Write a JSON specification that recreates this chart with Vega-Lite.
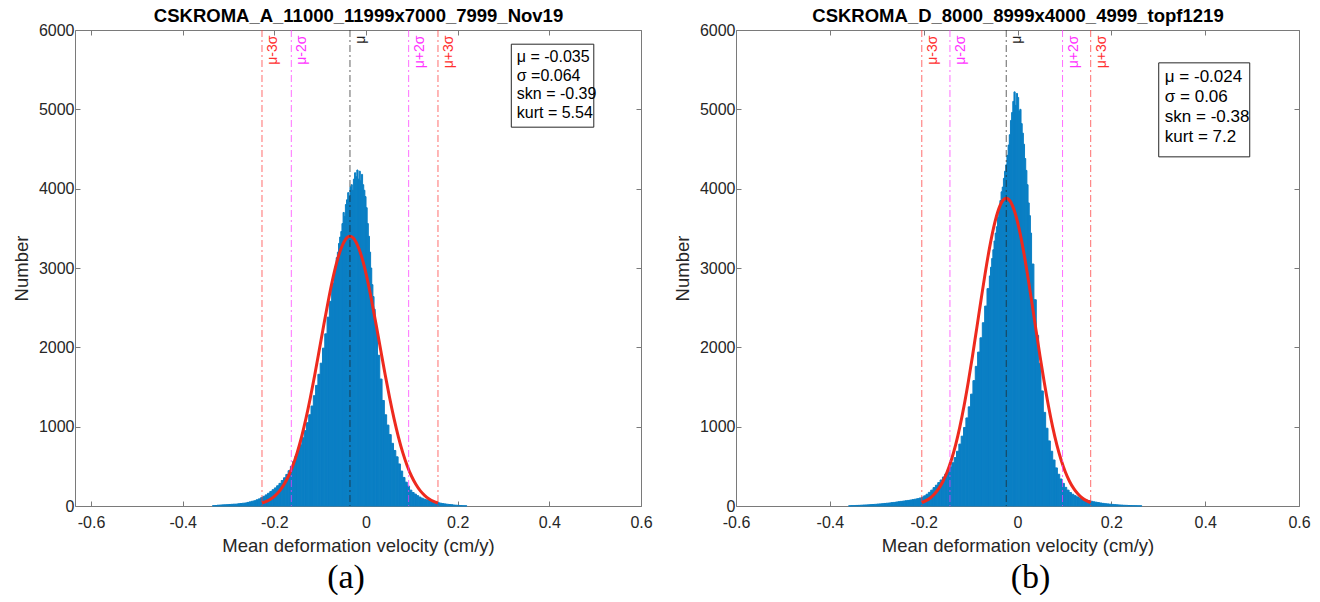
{
  "$schema": "https://vega.github.io/schema/vega-lite/v6.json",
  "background": "white",
  "padding": {"left": 12, "top": 6, "right": 5, "bottom": 0},
  "config": {
    "view": {"stroke": null},
    "font": "Liberation Sans",
    "axis": {"grid": false, "domainColor": "#7a7a7a", "tickColor": "#7a7a7a", "tickSize": -5, "labelFont": "Liberation Sans", "labelFontSize": 16, "labelColor": "#262626", "titleFont": "Liberation Sans", "titleFontSize": 18.5, "titleFontWeight": "normal", "titleColor": "#262626", "labelFlush": false}
  },
  "datasets": {
    "histA": [
      {"x0":-0.335,"x1":-0.33,"n":4},{"x0":-0.33,"x1":-0.325,"n":6},{"x0":-0.325,"x1":-0.32,"n":10},{"x0":-0.32,"x1":-0.315,"n":12},{"x0":-0.315,"x1":-0.31,"n":14},{"x0":-0.31,"x1":-0.305,"n":15},{"x0":-0.305,"x1":-0.3,"n":17},{"x0":-0.3,"x1":-0.295,"n":19},{"x0":-0.295,"x1":-0.29,"n":21},{"x0":-0.29,"x1":-0.285,"n":23},{"x0":-0.285,"x1":-0.28,"n":24},{"x0":-0.28,"x1":-0.275,"n":28},{"x0":-0.275,"x1":-0.27,"n":31},{"x0":-0.27,"x1":-0.265,"n":35},{"x0":-0.265,"x1":-0.26,"n":38},{"x0":-0.26,"x1":-0.255,"n":45},{"x0":-0.255,"x1":-0.25,"n":52},{"x0":-0.25,"x1":-0.245,"n":60},{"x0":-0.245,"x1":-0.24,"n":66},{"x0":-0.24,"x1":-0.235,"n":78},{"x0":-0.235,"x1":-0.23,"n":90},{"x0":-0.23,"x1":-0.225,"n":105},{"x0":-0.225,"x1":-0.22,"n":122},{"x0":-0.22,"x1":-0.215,"n":140},{"x0":-0.215,"x1":-0.21,"n":160},{"x0":-0.21,"x1":-0.205,"n":182},{"x0":-0.205,"x1":-0.2,"n":205},{"x0":-0.2,"x1":-0.195,"n":228},{"x0":-0.195,"x1":-0.19,"n":255},{"x0":-0.19,"x1":-0.185,"n":285},{"x0":-0.185,"x1":-0.18,"n":322},{"x0":-0.18,"x1":-0.175,"n":356},{"x0":-0.175,"x1":-0.17,"n":398},{"x0":-0.17,"x1":-0.165,"n":445},{"x0":-0.165,"x1":-0.16,"n":500},{"x0":-0.16,"x1":-0.155,"n":560},{"x0":-0.155,"x1":-0.15,"n":628},{"x0":-0.15,"x1":-0.145,"n":695},{"x0":-0.145,"x1":-0.14,"n":770},{"x0":-0.14,"x1":-0.135,"n":860},{"x0":-0.135,"x1":-0.13,"n":950},{"x0":-0.13,"x1":-0.125,"n":1050},{"x0":-0.125,"x1":-0.12,"n":1150},{"x0":-0.12,"x1":-0.115,"n":1260},{"x0":-0.115,"x1":-0.11,"n":1390},{"x0":-0.11,"x1":-0.105,"n":1520},{"x0":-0.105,"x1":-0.1,"n":1660},{"x0":-0.1,"x1":-0.095,"n":1800},{"x0":-0.095,"x1":-0.09,"n":1990},{"x0":-0.09,"x1":-0.085,"n":2170},{"x0":-0.085,"x1":-0.08,"n":2380},{"x0":-0.08,"x1":-0.075,"n":2580},{"x0":-0.075,"x1":-0.07,"n":2810},
      {"x0":-0.07,"x1":-0.0675,"n":2950},{"x0":-0.0675,"x1":-0.065,"n":3020},{"x0":-0.065,"x1":-0.0625,"n":3130},{"x0":-0.0625,"x1":-0.06,"n":3200},{"x0":-0.06,"x1":-0.0575,"n":3310},{"x0":-0.0575,"x1":-0.055,"n":3390},{"x0":-0.055,"x1":-0.0525,"n":3460},{"x0":-0.0525,"x1":-0.05,"n":3560},{"x0":-0.05,"x1":-0.0475,"n":3700},{"x0":-0.0475,"x1":-0.045,"n":3650},{"x0":-0.045,"x1":-0.0425,"n":3800},{"x0":-0.0425,"x1":-0.04,"n":3860},{"x0":-0.04,"x1":-0.0375,"n":3950},{"x0":-0.0375,"x1":-0.035,"n":3900},{"x0":-0.035,"x1":-0.0325,"n":4020},{"x0":-0.0325,"x1":-0.03,"n":4050},{"x0":-0.03,"x1":-0.0275,"n":3980},{"x0":-0.0275,"x1":-0.025,"n":4120},{"x0":-0.025,"x1":-0.0225,"n":4200},{"x0":-0.0225,"x1":-0.02,"n":4150},{"x0":-0.02,"x1":-0.0175,"n":4235},{"x0":-0.0175,"x1":-0.015,"n":4120},{"x0":-0.015,"x1":-0.0125,"n":4220},{"x0":-0.0125,"x1":-0.01,"n":4100},{"x0":-0.01,"x1":-0.0075,"n":4180},{"x0":-0.0075,"x1":-0.005,"n":4050},{"x0":-0.005,"x1":-0.0025,"n":3980},{"x0":-0.0025,"x1":0,"n":3900},{"x0":0,"x1":0.0025,"n":3760},{"x0":0.0025,"x1":0.005,"n":3560},{"x0":0.005,"x1":0.0075,"n":3400},{"x0":0.0075,"x1":0.01,"n":3200},{"x0":0.01,"x1":0.0125,"n":3000},{"x0":0.0125,"x1":0.015,"n":2790},{"x0":0.015,"x1":0.0175,"n":2640},{"x0":0.0175,"x1":0.02,"n":2480},
      {"x0":0.02,"x1":0.025,"n":2250},{"x0":0.025,"x1":0.03,"n":1900},{"x0":0.03,"x1":0.035,"n":1600},{"x0":0.035,"x1":0.04,"n":1330},{"x0":0.04,"x1":0.045,"n":1150},{"x0":0.045,"x1":0.05,"n":1020},{"x0":0.05,"x1":0.055,"n":900},{"x0":0.055,"x1":0.06,"n":790},{"x0":0.06,"x1":0.065,"n":700},{"x0":0.065,"x1":0.07,"n":620},{"x0":0.07,"x1":0.075,"n":530},{"x0":0.075,"x1":0.08,"n":440},{"x0":0.08,"x1":0.085,"n":360},{"x0":0.085,"x1":0.09,"n":300},{"x0":0.09,"x1":0.095,"n":250},{"x0":0.095,"x1":0.1,"n":200},{"x0":0.1,"x1":0.105,"n":170},{"x0":0.105,"x1":0.11,"n":150},{"x0":0.11,"x1":0.115,"n":130},{"x0":0.115,"x1":0.12,"n":112},{"x0":0.12,"x1":0.125,"n":98},{"x0":0.125,"x1":0.13,"n":86},{"x0":0.13,"x1":0.135,"n":78},{"x0":0.135,"x1":0.14,"n":70},{"x0":0.14,"x1":0.145,"n":62},{"x0":0.145,"x1":0.15,"n":55},{"x0":0.15,"x1":0.155,"n":48},{"x0":0.155,"x1":0.16,"n":42},{"x0":0.16,"x1":0.165,"n":36},{"x0":0.165,"x1":0.17,"n":30},{"x0":0.17,"x1":0.175,"n":26},{"x0":0.175,"x1":0.18,"n":22},{"x0":0.18,"x1":0.185,"n":19},{"x0":0.185,"x1":0.19,"n":16},{"x0":0.19,"x1":0.195,"n":12},{"x0":0.195,"x1":0.2,"n":10},{"x0":0.2,"x1":0.205,"n":7},{"x0":0.205,"x1":0.21,"n":5},{"x0":0.21,"x1":0.215,"n":3},{"x0":0.215,"x1":0.22,"n":2}
    ],
    "histB": [
      {"x0":-0.36,"x1":-0.355,"n":2},{"x0":-0.355,"x1":-0.35,"n":4},{"x0":-0.35,"x1":-0.345,"n":5},{"x0":-0.345,"x1":-0.34,"n":7},{"x0":-0.34,"x1":-0.335,"n":8},{"x0":-0.335,"x1":-0.33,"n":10},{"x0":-0.33,"x1":-0.325,"n":12},{"x0":-0.325,"x1":-0.32,"n":13},{"x0":-0.32,"x1":-0.315,"n":15},{"x0":-0.315,"x1":-0.31,"n":17},{"x0":-0.31,"x1":-0.305,"n":19},{"x0":-0.305,"x1":-0.3,"n":21},{"x0":-0.3,"x1":-0.295,"n":24},{"x0":-0.295,"x1":-0.29,"n":26},{"x0":-0.29,"x1":-0.285,"n":29},{"x0":-0.285,"x1":-0.28,"n":32},{"x0":-0.28,"x1":-0.275,"n":35},{"x0":-0.275,"x1":-0.27,"n":38},{"x0":-0.27,"x1":-0.265,"n":42},{"x0":-0.265,"x1":-0.26,"n":45},{"x0":-0.26,"x1":-0.255,"n":50},{"x0":-0.255,"x1":-0.25,"n":54},{"x0":-0.25,"x1":-0.245,"n":58},{"x0":-0.245,"x1":-0.24,"n":62},{"x0":-0.24,"x1":-0.235,"n":66},{"x0":-0.235,"x1":-0.23,"n":70},{"x0":-0.23,"x1":-0.225,"n":75},{"x0":-0.225,"x1":-0.22,"n":80},{"x0":-0.22,"x1":-0.215,"n":86},{"x0":-0.215,"x1":-0.21,"n":92},{"x0":-0.21,"x1":-0.205,"n":100},{"x0":-0.205,"x1":-0.2,"n":112},{"x0":-0.2,"x1":-0.195,"n":128},{"x0":-0.195,"x1":-0.19,"n":148},{"x0":-0.19,"x1":-0.185,"n":172},{"x0":-0.185,"x1":-0.18,"n":200},{"x0":-0.18,"x1":-0.175,"n":232},{"x0":-0.175,"x1":-0.17,"n":262},{"x0":-0.17,"x1":-0.165,"n":295},{"x0":-0.165,"x1":-0.16,"n":328},{"x0":-0.16,"x1":-0.155,"n":365},{"x0":-0.155,"x1":-0.15,"n":402},{"x0":-0.15,"x1":-0.145,"n":445},{"x0":-0.145,"x1":-0.14,"n":492},{"x0":-0.14,"x1":-0.135,"n":545},{"x0":-0.135,"x1":-0.13,"n":610},{"x0":-0.13,"x1":-0.125,"n":690},{"x0":-0.125,"x1":-0.12,"n":780},{"x0":-0.12,"x1":-0.115,"n":880},{"x0":-0.115,"x1":-0.11,"n":990},{"x0":-0.11,"x1":-0.105,"n":1110},{"x0":-0.105,"x1":-0.1,"n":1250},{"x0":-0.1,"x1":-0.095,"n":1410},{"x0":-0.095,"x1":-0.09,"n":1580},{"x0":-0.09,"x1":-0.085,"n":1760},{"x0":-0.085,"x1":-0.08,"n":1940},{"x0":-0.08,"x1":-0.075,"n":2120},{"x0":-0.075,"x1":-0.07,"n":2310},{"x0":-0.07,"x1":-0.065,"n":2520},{"x0":-0.065,"x1":-0.06,"n":2740},
      {"x0":-0.06,"x1":-0.0575,"n":2900},{"x0":-0.0575,"x1":-0.055,"n":3010},{"x0":-0.055,"x1":-0.0525,"n":3120},{"x0":-0.0525,"x1":-0.05,"n":3230},{"x0":-0.05,"x1":-0.0475,"n":3340},{"x0":-0.0475,"x1":-0.045,"n":3440},{"x0":-0.045,"x1":-0.0425,"n":3520},{"x0":-0.0425,"x1":-0.04,"n":3640},{"x0":-0.04,"x1":-0.0375,"n":3760},{"x0":-0.0375,"x1":-0.035,"n":3850},{"x0":-0.035,"x1":-0.0325,"n":3960},{"x0":-0.0325,"x1":-0.03,"n":4020},{"x0":-0.03,"x1":-0.0275,"n":4130},{"x0":-0.0275,"x1":-0.025,"n":4220},{"x0":-0.025,"x1":-0.0225,"n":4300},{"x0":-0.0225,"x1":-0.02,"n":4420},{"x0":-0.02,"x1":-0.0175,"n":4550},{"x0":-0.0175,"x1":-0.015,"n":4680},{"x0":-0.015,"x1":-0.0125,"n":4860},{"x0":-0.0125,"x1":-0.01,"n":4960},{"x0":-0.01,"x1":-0.0075,"n":5100},{"x0":-0.0075,"x1":-0.005,"n":5220},{"x0":-0.005,"x1":-0.0025,"n":5050},{"x0":-0.0025,"x1":0,"n":5200},{"x0":0,"x1":0.0025,"n":5150},{"x0":0.0025,"x1":0.005,"n":4980},{"x0":0.005,"x1":0.0075,"n":5000},{"x0":0.0075,"x1":0.01,"n":4820},{"x0":0.01,"x1":0.0125,"n":4700},{"x0":0.0125,"x1":0.015,"n":4560},{"x0":0.015,"x1":0.0175,"n":4380},{"x0":0.0175,"x1":0.02,"n":4230},{"x0":0.02,"x1":0.0225,"n":4050},{"x0":0.0225,"x1":0.025,"n":3820},{"x0":0.025,"x1":0.0275,"n":3660},{"x0":0.0275,"x1":0.03,"n":3440},
      {"x0":0.03,"x1":0.035,"n":3050},{"x0":0.035,"x1":0.04,"n":2600},{"x0":0.04,"x1":0.045,"n":2150},{"x0":0.045,"x1":0.05,"n":1800},{"x0":0.05,"x1":0.055,"n":1450},{"x0":0.055,"x1":0.06,"n":1180},{"x0":0.06,"x1":0.065,"n":980},{"x0":0.065,"x1":0.07,"n":820},{"x0":0.07,"x1":0.075,"n":690},{"x0":0.075,"x1":0.08,"n":580},{"x0":0.08,"x1":0.085,"n":480},{"x0":0.085,"x1":0.09,"n":400},{"x0":0.09,"x1":0.095,"n":340},{"x0":0.095,"x1":0.1,"n":285},{"x0":0.1,"x1":0.105,"n":235},{"x0":0.105,"x1":0.11,"n":200},{"x0":0.11,"x1":0.115,"n":170},{"x0":0.115,"x1":0.12,"n":148},{"x0":0.12,"x1":0.125,"n":130},{"x0":0.125,"x1":0.13,"n":115},{"x0":0.13,"x1":0.135,"n":102},{"x0":0.135,"x1":0.14,"n":92},{"x0":0.14,"x1":0.145,"n":82},{"x0":0.145,"x1":0.15,"n":74},{"x0":0.15,"x1":0.155,"n":67},{"x0":0.155,"x1":0.16,"n":60},{"x0":0.16,"x1":0.165,"n":53},{"x0":0.165,"x1":0.17,"n":48},{"x0":0.17,"x1":0.175,"n":43},{"x0":0.175,"x1":0.18,"n":38},{"x0":0.18,"x1":0.185,"n":33},{"x0":0.185,"x1":0.19,"n":29},{"x0":0.19,"x1":0.195,"n":26},{"x0":0.195,"x1":0.2,"n":23},{"x0":0.2,"x1":0.205,"n":20},{"x0":0.205,"x1":0.21,"n":17},{"x0":0.21,"x1":0.215,"n":15},{"x0":0.215,"x1":0.22,"n":13},{"x0":0.22,"x1":0.225,"n":11},{"x0":0.225,"x1":0.23,"n":9},{"x0":0.23,"x1":0.235,"n":8},{"x0":0.235,"x1":0.24,"n":6},{"x0":0.24,"x1":0.245,"n":5},{"x0":0.245,"x1":0.25,"n":4},{"x0":0.25,"x1":0.255,"n":3},{"x0":0.255,"x1":0.26,"n":2},{"x0":0.26,"x1":0.265,"n":2}
    ],
    "fitA": [
      {"x":-0.227,"n":38},{"x":-0.2174,"n":59},{"x":-0.2078,"n":89},{"x":-0.1982,"n":132},{"x":-0.1886,"n":191},{"x":-0.179,"n":271},{"x":-0.1694,"n":375},{"x":-0.1598,"n":508},{"x":-0.1502,"n":673},{"x":-0.1406,"n":872},{"x":-0.131,"n":1104},{"x":-0.1214,"n":1367},{"x":-0.1118,"n":1655},{"x":-0.1022,"n":1959},{"x":-0.0926,"n":2268},{"x":-0.083,"n":2566},{"x":-0.0734,"n":2840},{"x":-0.0638,"n":3073},{"x":-0.0542,"n":3250},{"x":-0.0446,"n":3362},{"x":-0.035,"n":3400},{"x":-0.0254,"n":3362},{"x":-0.0158,"n":3250},{"x":-0.0062,"n":3073},{"x":0.0034,"n":2840},{"x":0.013,"n":2566},{"x":0.0226,"n":2268},{"x":0.0322,"n":1959},{"x":0.0418,"n":1655},{"x":0.0514,"n":1367},{"x":0.061,"n":1104},{"x":0.0706,"n":872},{"x":0.0802,"n":673},{"x":0.0898,"n":508},{"x":0.0994,"n":375},{"x":0.109,"n":271},{"x":0.1186,"n":191},{"x":0.1282,"n":132},{"x":0.1378,"n":89},{"x":0.1474,"n":59},{"x":0.157,"n":38}
    ],
    "fitB": [
      {"x":-0.204,"n":43},{"x":-0.195,"n":67},{"x":-0.186,"n":101},{"x":-0.177,"n":150},{"x":-0.168,"n":218},{"x":-0.159,"n":309},{"x":-0.15,"n":428},{"x":-0.141,"n":580},{"x":-0.132,"n":768},{"x":-0.123,"n":995},{"x":-0.114,"n":1260},{"x":-0.105,"n":1560},{"x":-0.096,"n":1889},{"x":-0.087,"n":2236},{"x":-0.078,"n":2588},{"x":-0.069,"n":2929},{"x":-0.06,"n":3241},{"x":-0.051,"n":3506},{"x":-0.042,"n":3709},{"x":-0.033,"n":3837},{"x":-0.024,"n":3880},{"x":-0.015,"n":3837},{"x":-0.006,"n":3709},{"x":0.003,"n":3506},{"x":0.012,"n":3241},{"x":0.021,"n":2929},{"x":0.03,"n":2588},{"x":0.039,"n":2236},{"x":0.048,"n":1889},{"x":0.057,"n":1560},{"x":0.066,"n":1260},{"x":0.075,"n":995},{"x":0.084,"n":768},{"x":0.093,"n":580},{"x":0.102,"n":428},{"x":0.111,"n":309},{"x":0.12,"n":218},{"x":0.129,"n":150},{"x":0.138,"n":101},{"x":0.147,"n":67},{"x":0.156,"n":43}
    ],
    "linesA": [
      {"x":-0.227,"k":"s3","label":"μ-3σ"},{"x":-0.163,"k":"s2","label":"μ-2σ"},{"x":-0.035,"k":"mu","label":"μ"},{"x":0.093,"k":"s2","label":"μ+2σ"},{"x":0.157,"k":"s3","label":"μ+3σ"}
    ],
    "linesB": [
      {"x":-0.204,"k":"s3","label":"μ-3σ"},{"x":-0.144,"k":"s2","label":"μ-2σ"},{"x":-0.024,"k":"mu","label":"μ"},{"x":0.096,"k":"s2","label":"μ+2σ"},{"x":0.156,"k":"s3","label":"μ+3σ"}
    ],
    "statsA": [{"t":"μ = -0.035\nσ =0.064\nskn = -0.39\nkurt = 5.54"}],
    "statsB": [{"t":"μ = -0.024\nσ = 0.06\nskn = -0.38\nkurt = 7.2"}]
  },
  "hconcat": [
    {
      "width": 566, "height": 476,
      "title": {"text": "(a)", "orient": "bottom", "anchor": "middle", "frame": "group", "font": "Liberation Serif", "fontSize": 34, "fontWeight": "normal", "color": "#000000", "offset": 6, "dx": -12},
      "layer": [
        {"data": {"name": "histA"},
         "mark": {"type": "rect", "color": "#0a7fc4", "stroke": "#0a7fc4", "strokeWidth": 1},
         "encoding": {
           "x": {"field": "x0", "type": "quantitative", "scale": {"domain": [-0.635, 0.6], "nice": false, "zero": false},
                 "axis": {"orient": "bottom", "values": [-0.6,-0.4,-0.2,0,0.2,0.4,0.6], "format": ".1~f", "labelExpr": "replace(datum.label, '−', '-')", "labelPadding": 13, "title": "Mean deformation velocity (cm/y)", "titlePadding": 6}},
           "x2": {"field": "x1"},
           "y": {"field": "n", "type": "quantitative", "scale": {"domain": [0, 6000], "nice": false},
                 "axis": {"orient": "left", "values": [0,1000,2000,3000,4000,5000,6000], "format": "d", "labelPadding": 6, "title": "Number", "titlePadding": 7}},
           "y2": {"datum": 0}
         }},
        {"data": {"name": "fitA"},
         "mark": {"type": "line", "color": "#ee2a1e", "strokeWidth": 3, "interpolate": "monotone"},
         "encoding": {
           "x": {"field": "x", "type": "quantitative", "scale": {"domain": [-0.635, 0.6], "nice": false, "zero": false},
                 "axis": {"orient": "top", "values": [-0.6,-0.4,-0.2,0,0.2,0.4,0.6], "labels": false, "title": "CSKROMA_A_11000_11999x7000_7999_Nov19", "titleFontWeight": "bold", "titleFontSize": 18.5, "titleColor": "#000000", "titlePadding": 4}},
           "y": {"field": "n", "type": "quantitative", "scale": {"domain": [0, 6000], "nice": false},
                 "axis": {"orient": "right", "values": [0,1000,2000,3000,4000,5000,6000], "labels": false, "title": null}}
         }},
        {"data": {"name": "linesA"},
         "mark": {"type": "rule", "strokeWidth": 1, "strokeDash": [7, 3, 2, 3], "opacity": 0.7},
         "encoding": {
           "x": {"field": "x", "type": "quantitative", "axis": null},
           "color": {"field": "k", "type": "nominal", "scale": {"domain": ["mu", "s2", "s3"], "range": ["#222222", "#ff33ff", "#ff3030"]}, "legend": null}
         }},
        {"data": {"name": "linesA"},
         "mark": {"type": "text", "angle": 270, "align": "right", "baseline": "top", "dy": 4, "fontSize": 14},
         "encoding": {
           "x": {"field": "x", "type": "quantitative", "axis": null},
           "y": {"datum": 5930, "axis": null},
           "text": {"field": "label"},
           "color": {"field": "k", "type": "nominal", "scale": {"domain": ["mu", "s2", "s3"], "range": ["#222222", "#ff33ff", "#ff3030"]}, "legend": null}
         }},
        {"data": {"values": [{}]},
         "mark": {"type": "rect", "fill": "white", "stroke": "#262626", "strokeWidth": 1},
         "encoding": {
           "x": {"datum": 0.317, "axis": null}, "x2": {"datum": 0.497},
           "y": {"datum": 5821, "axis": null}, "y2": {"datum": 4775}
         }},
        {"data": {"name": "statsA"},
         "mark": {"type": "text", "align": "left", "baseline": "top", "fontSize": 16, "lineHeight": 18.5, "lineBreak": "\n", "color": "#000000"},
         "encoding": {
           "x": {"datum": 0.329, "axis": null},
           "y": {"datum": 5760, "axis": null},
           "text": {"field": "t"}
         }}
      ],
      "resolve": {"axis": {"x": "independent", "y": "independent"}}
    },
    {
      "width": 563, "height": 476,
      "title": {"text": "(b)", "orient": "bottom", "anchor": "middle", "frame": "group", "font": "Liberation Serif", "fontSize": 34, "fontWeight": "normal", "color": "#000000", "offset": 6, "dx": 13},
      "layer": [
        {"data": {"name": "histB"},
         "mark": {"type": "rect", "color": "#0a7fc4", "stroke": "#0a7fc4", "strokeWidth": 1},
         "encoding": {
           "x": {"field": "x0", "type": "quantitative", "scale": {"domain": [-0.6, 0.6], "nice": false, "zero": false},
                 "axis": {"orient": "bottom", "values": [-0.6,-0.4,-0.2,0,0.2,0.4,0.6], "format": ".1~f", "labelExpr": "replace(datum.label, '−', '-')", "labelPadding": 13, "title": "Mean deformation velocity (cm/y)", "titlePadding": 6}},
           "x2": {"field": "x1"},
           "y": {"field": "n", "type": "quantitative", "scale": {"domain": [0, 6000], "nice": false},
                 "axis": {"orient": "left", "values": [0,1000,2000,3000,4000,5000,6000], "format": "d", "labelPadding": 6, "title": "Number", "titlePadding": 7}},
           "y2": {"datum": 0}
         }},
        {"data": {"name": "fitB"},
         "mark": {"type": "line", "color": "#ee2a1e", "strokeWidth": 3, "interpolate": "monotone"},
         "encoding": {
           "x": {"field": "x", "type": "quantitative", "scale": {"domain": [-0.6, 0.6], "nice": false, "zero": false},
                 "axis": {"orient": "top", "values": [-0.6,-0.4,-0.2,0,0.2,0.4,0.6], "labels": false, "title": "CSKROMA_D_8000_8999x4000_4999_topf1219", "titleFontWeight": "bold", "titleFontSize": 18.5, "titleColor": "#000000", "titlePadding": 4}},
           "y": {"field": "n", "type": "quantitative", "scale": {"domain": [0, 6000], "nice": false},
                 "axis": {"orient": "right", "values": [0,1000,2000,3000,4000,5000,6000], "labels": false, "title": null}}
         }},
        {"data": {"name": "linesB"},
         "mark": {"type": "rule", "strokeWidth": 1, "strokeDash": [7, 3, 2, 3], "opacity": 0.7},
         "encoding": {
           "x": {"field": "x", "type": "quantitative", "axis": null},
           "color": {"field": "k", "type": "nominal", "scale": {"domain": ["mu", "s2", "s3"], "range": ["#222222", "#ff33ff", "#ff3030"]}, "legend": null}
         }},
        {"data": {"name": "linesB"},
         "mark": {"type": "text", "angle": 270, "align": "right", "baseline": "top", "dy": 4, "fontSize": 14},
         "encoding": {
           "x": {"field": "x", "type": "quantitative", "axis": null},
           "y": {"datum": 5930, "axis": null},
           "text": {"field": "label"},
           "color": {"field": "k", "type": "nominal", "scale": {"domain": ["mu", "s2", "s3"], "range": ["#222222", "#ff33ff", "#ff3030"]}, "legend": null}
         }},
        {"data": {"values": [{}]},
         "mark": {"type": "rect", "fill": "white", "stroke": "#262626", "strokeWidth": 1},
         "encoding": {
           "x": {"datum": 0.301, "axis": null}, "x2": {"datum": 0.495},
           "y": {"datum": 5586, "axis": null}, "y2": {"datum": 4401}
         }},
        {"data": {"name": "statsB"},
         "mark": {"type": "text", "align": "left", "baseline": "top", "fontSize": 17, "lineHeight": 20, "lineBreak": "\n", "color": "#000000"},
         "encoding": {
           "x": {"datum": 0.314, "axis": null},
           "y": {"datum": 5510, "axis": null},
           "text": {"field": "t"}
         }}
      ],
      "resolve": {"axis": {"x": "independent", "y": "independent"}}
    }
  ],
  "spacing": 95,
  "bounds": "flush"
}
